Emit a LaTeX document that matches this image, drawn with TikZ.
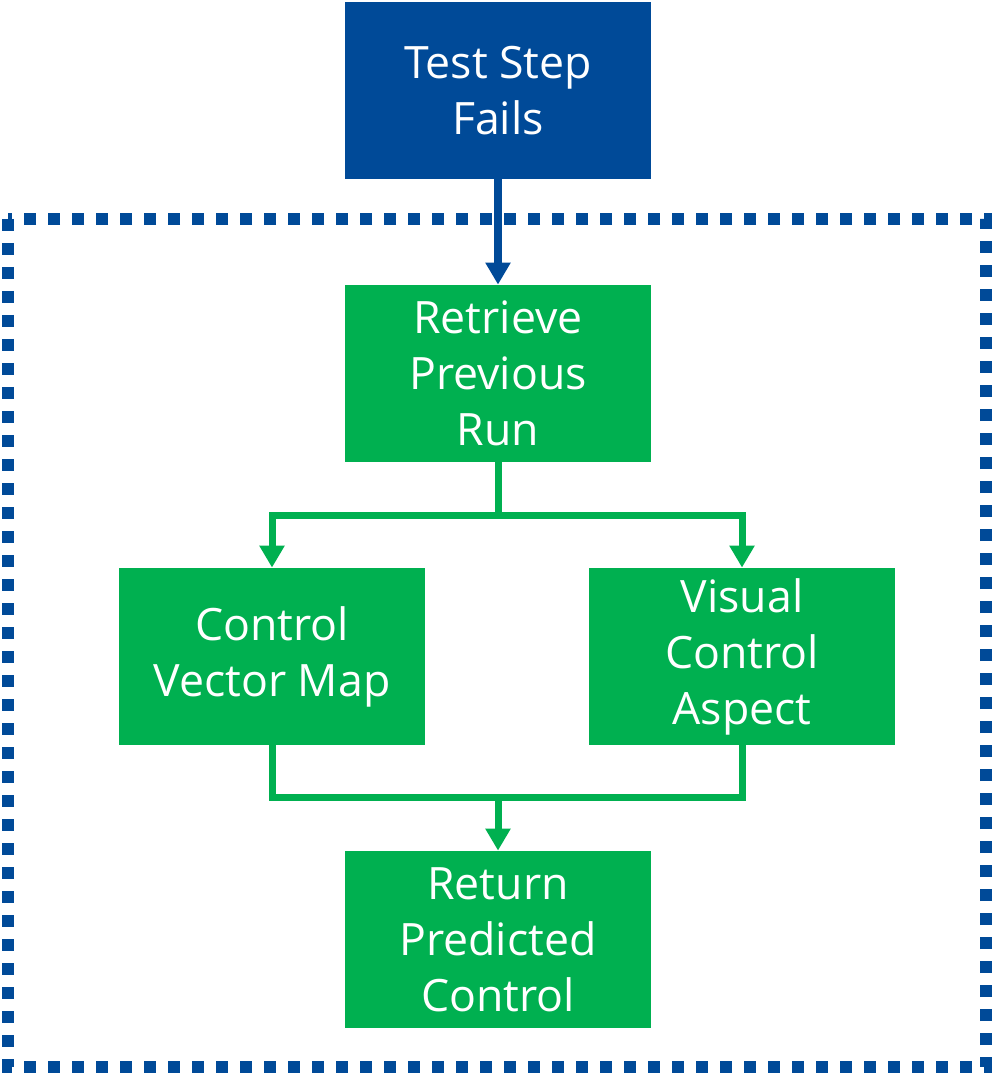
\documentclass[tikz,border=0pt]{standalone}
\usepackage{fontspec}
\setmainfont{Open Sans}
\usetikzlibrary{arrows.meta}
\definecolor{failblue}{RGB}{0,74,152}
\definecolor{flowgreen}{RGB}{0,176,80}
\tikzset{
  box/.style={minimum width=153pt, minimum height=88.5pt, inner sep=0pt,
    text=white, align=center, font=\fontsize{22.3}{28}\selectfont},
  bluebox/.style={box, fill=failblue},
  greenbox/.style={box, fill=flowgreen},
  bluelink/.style={draw=failblue, line width=4pt,
    -{Triangle[length=11pt,width=12pt]}},
  greenlink/.style={draw=flowgreen, line width=3.5pt, line join=miter,
    -{Triangle[length=11pt,width=12pt]}},
}
\begin{document}
\begin{tikzpicture}[x=0.5pt, y=-0.5pt]
   \useasboundingbox (0, 0) rectangle (993, 1074);
   % dotted frame round the prediction steps
   \draw[failblue, line width=6pt, dash pattern=on 6pt off 6pt]
      (8, 219) rectangle (986, 1067);
   \node[bluebox] (fail) at (498, 90.5) {Test Step\\Fails};
   \node[greenbox] (retrieve) at (498, 373.5) {Retrieve\\Previous\\Run};
   \node[greenbox] (vectormap) at (272, 656.5) {Control\\Vector Map};
   \node[greenbox] (aspect) at (742, 656.5) {Visual\\Control\\Aspect};
   \node[greenbox] (predicted) at (498, 939.5) {Return\\Predicted\\Control};
   \coordinate (split) at (498, 515);
   \coordinate (merge) at (498, 797);
   \draw[bluelink] (fail) -- (retrieve);
   \draw[greenlink, -] (retrieve) -- (split);
   \draw[greenlink] (split) -| (vectormap);
   \draw[greenlink] (split) -| (aspect);
   \draw[greenlink, -] (vectormap) |- (merge) -| (aspect);
   \draw[greenlink] (merge) -- (predicted);
\end{tikzpicture}
\end{document}
